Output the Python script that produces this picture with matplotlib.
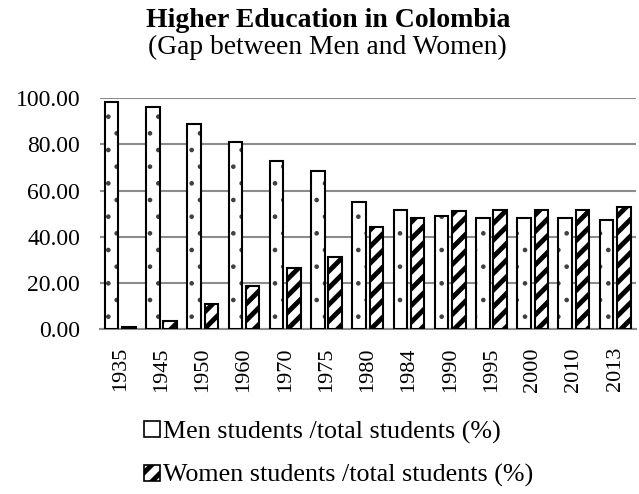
import numpy as np
import matplotlib.pyplot as plt
from matplotlib.patches import Patch

plt.rcParams['font.family'] = ['Liberation Serif', 'DejaVu Serif']

years = ['1935', '1945', '1950', '1960', '1970', '1975', '1980',
         '1984', '1990', '1995', '2000', '2010', '2013']
men = [98.6, 96.4, 88.9, 81.1, 73.0, 68.4, 55.2, 51.7, 48.8, 47.9, 47.9, 48.1, 47.2]
women = [1.0, 3.3, 11.0, 18.5, 26.6, 31.3, 44.4, 48.2, 51.1, 51.8, 51.8, 51.7, 52.7]

men_label = 'Men students /total students (%)'
women_label = 'Women students /total students (%)'

fig = plt.figure(figsize=(6.39, 4.94), dpi=100)
ax = fig.add_axes([0.156, 0.334, 0.839, 0.467])

x = np.arange(len(years))
w = 0.33
off = 0.21

# men: white bars with sparse dark dots
plt.rcParams['hatch.linewidth'] = 0.9
dots = ax.bar(x - off, men, w, color='white', edgecolor='#404040', linewidth=0,
              hatch='.', zorder=3)
ax.bar(x - off, men, w, fill=False, edgecolor='black', linewidth=1.5, zorder=4)

# women: wide diagonal stripes
plt.rcParams['hatch.linewidth'] = 3.5
stripes = ax.bar(x + off, women, w, color='white', edgecolor='black',
                 linewidth=1.5, hatch='//', zorder=3)
for p in dots:
    if hasattr(p, 'set_hatch_linewidth'):
        p.set_hatch_linewidth(0.9)
for p in stripes:
    if hasattr(p, 'set_hatch_linewidth'):
        p.set_hatch_linewidth(3.5)

ax.set_xlim(-0.5, len(years) - 0.5)
ax.set_ylim(0, 100)
ax.set_yticks(np.arange(0, 101, 20))
ax.set_yticklabels(['%.2f' % v for v in np.arange(0, 101, 20)], fontsize=17)
ax.set_xticks(x)
ax.set_xticklabels(years, rotation=90, fontsize=16)
ax.tick_params(axis='y', length=0, pad=14)
ax.tick_params(axis='x', length=0, pad=13)
ax.yaxis.grid(True, color='#8c8c8c', linewidth=1.5, zorder=0)
ax.set_axisbelow(True)
for s in ['top', 'right', 'left']:
    ax.spines[s].set_visible(False)
ax.spines['bottom'].set_color('#8c8c8c')
ax.spines['bottom'].set_linewidth(1.5)

fig.text(0.513, 0.945, 'Higher Education in Colombia', ha='center',
         va='baseline', fontsize=20, fontweight='bold')
fig.text(0.513, 0.891, '(Gap between Men and Women)', ha='center',
         va='baseline', fontsize=19.8)

handles = [Patch(facecolor='white', edgecolor='black', linewidth=1.2),
           Patch(facecolor='white', edgecolor='black', linewidth=1.2, hatch='//')]
fig.legend(handles, [men_label, women_label], loc='center left',
           bbox_to_anchor=(0.226, 0.081), frameon=False, fontsize=18.7,
           handlelength=0.6, handleheight=0.6, handletextpad=0.1,
           labelspacing=0.8, borderaxespad=0, borderpad=0)

fig.savefig('out.png', dpi=100)
